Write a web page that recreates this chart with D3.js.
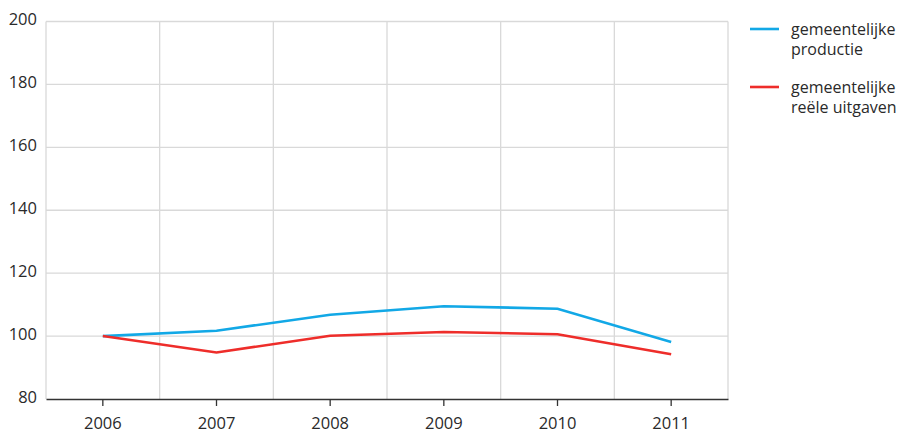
<!DOCTYPE html>
<html>
<head>
<meta charset="utf-8">
<script src="https://cdn.jsdelivr.net/npm/d3@7"></script>
<style>
  body { margin: 0; background: #fff; }
  text { font-family: "Open Sans", "Noto Sans", sans-serif; fill: #2a2a2a; }
</style>
</head>
<body>
<div id="chart"></div>
<script>
var years = ["2006", "2007", "2008", "2009", "2010", "2011"];
var productie = [100, 101.7, 106.8, 109.5, 108.7, 98.1];
var uitgaven = [100, 94.8, 100.1, 101.3, 100.6, 94.2];
var yTicks = [80, 100, 120, 140, 160, 180, 200];
var seriesNames = [["gemeentelijke", "productie"], ["gemeentelijke", "reële uitgaven"]];
var seriesColors = ["#12a8e6", "#ee2d2a"];

var width = 902, height = 433;
var margin = {top: 21.5, right: 174, bottom: 34, left: 46};

var svg = d3.select("#chart").append("svg")
  .attr("width", width)
  .attr("height", height);

var x = d3.scaleBand().domain(years).range([margin.left, width - margin.right]);
var y = d3.scaleLinear().domain([80, 200]).range([height - margin.bottom, margin.top]);

// horizontal grid
svg.append("g").selectAll("line").data(yTicks.slice(1))
  .enter().append("line")
  .attr("x1", margin.left).attr("x2", width - margin.right)
  .attr("y1", d => y(d)).attr("y2", d => y(d))
  .style("stroke", "#d9d9d9").style("stroke-width", 1.3);

// vertical grid between years, plus the edges
var edges = years.map(d => x(d)).concat([x.range()[1]]);
svg.append("g").selectAll("line").data(edges)
  .enter().append("line")
  .attr("x1", d => d).attr("x2", d => d)
  .attr("y1", margin.top).attr("y2", y(80))
  .style("stroke", "#d9d9d9").style("stroke-width", 1.3);

// y labels
svg.append("g").selectAll("text").data(yTicks)
  .enter().append("text")
  .attr("x", 37)
  .attr("y", d => y(d))
  .attr("dy", "0.22em")
  .attr("text-anchor", "end")
  .style("font-size", "16.5px")
  .text(d => d);

// x axis
var xAxis = svg.append("g")
  .attr("transform", "translate(0," + y(80) + ")")
  .call(d3.axisBottom(x).tickSize(7).tickSizeOuter(0).tickPadding(11));
xAxis.select(".domain").style("stroke", "#333").style("stroke-width", 1.5);
xAxis.selectAll(".tick line").style("stroke", "#333").style("stroke-width", 1.3);
xAxis.selectAll(".tick text").style("font-size", "16.5px").style("font-family", "'Open Sans', 'Noto Sans', sans-serif").attr("fill", "#2a2a2a");

var line = d3.line()
  .x((d, i) => x(years[i]) + x.bandwidth() / 2)
  .y(d => y(d));

[productie, uitgaven].forEach(function(s, i) {
  svg.append("path")
    .datum(s)
    .attr("d", line)
    .style("fill", "none")
    .style("stroke", seriesColors[i])
    .style("stroke-width", 2.6);
});

// legend
var legend = svg.append("g");
seriesNames.forEach(function(lines, i) {
  var ly = 29 + i * 58;
  legend.append("line")
    .attr("x1", 750).attr("x2", 779)
    .attr("y1", ly).attr("y2", ly)
    .style("stroke", seriesColors[i])
    .style("stroke-width", 2.6);
  lines.forEach(function(t, j) {
    legend.append("text")
      .attr("x", 791)
      .attr("y", ly + 6 + j * 20)
      .style("font-size", "16px")
      .text(t);
  });
});
</script>
</body>
</html>
